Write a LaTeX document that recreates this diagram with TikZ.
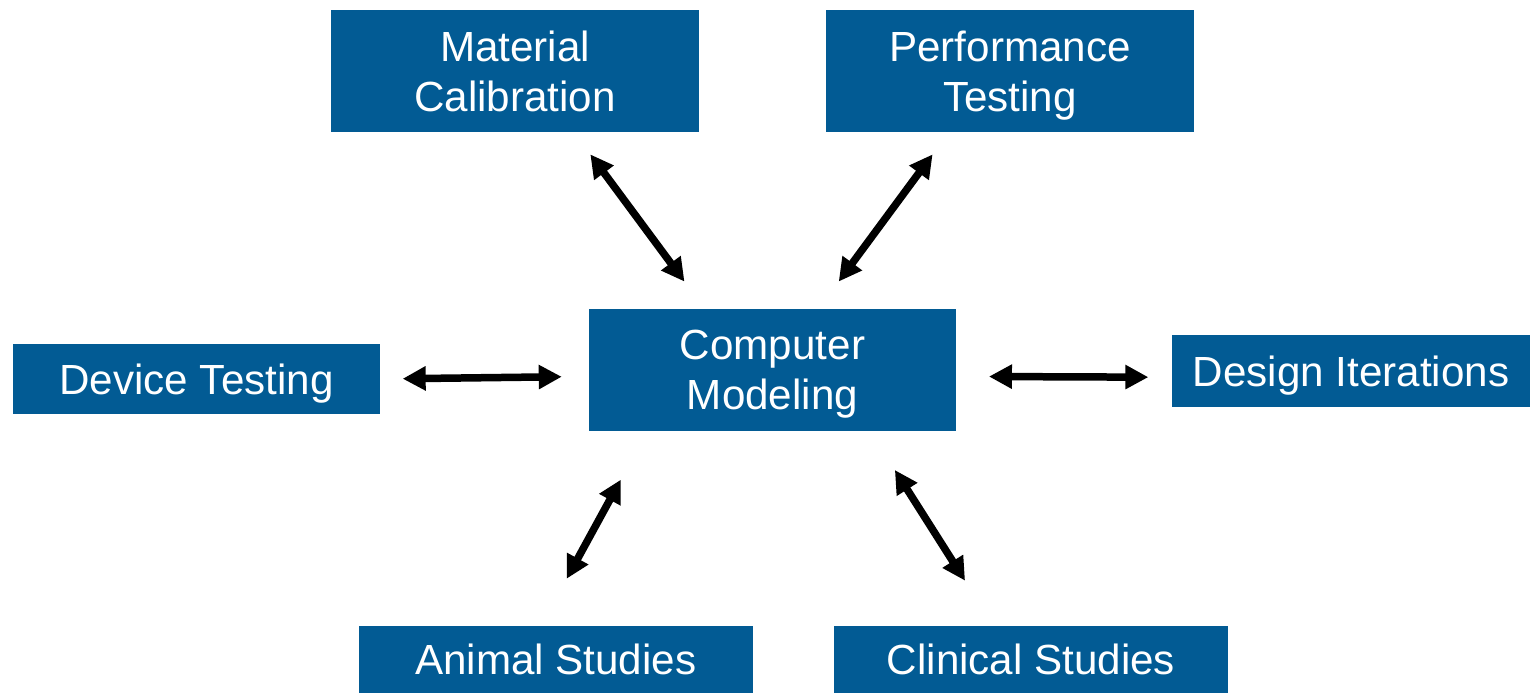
\documentclass[tikz,border=0pt]{standalone}
\usepackage{fontspec}
\setmainfont{Liberation Sans}
\usetikzlibrary{arrows.meta}
\definecolor{boxblue}{RGB}{2,91,148}

\begin{document}
\begin{tikzpicture}
  [x=0.02cm,y=-0.02cm,
   every node/.style={rectangle,fill=boxblue,text=white,inner sep=0pt,outer sep=0pt,
     align=center,text depth=0pt,font=\fontsize{24}{28.5}\selectfont},
   link/.style={line width=0.15cm,
     {Triangle[length=0.46cm,width=0.46cm]}-{Triangle[length=0.46cm,width=0.46cm]}}]
  \useasboundingbox (0,0) rectangle (1530,693);

  \node[minimum width=7.36cm,minimum height=2.45cm] (mc) at (515,71.25)  {Material\\Calibration};
  \node[minimum width=7.36cm,minimum height=2.45cm] (pt) at (1010,71.25) {Performance\\Testing};
  \node[minimum width=7.34cm,minimum height=2.44cm] (cm) at (772.5,370)  {Computer\\Modeling};
  \node[minimum width=7.34cm,minimum height=1.40cm] (dt) at (196.5,379)  {Device Testing};
  \node[minimum width=7.16cm,minimum height=1.44cm] (di) at (1351,371)   {Design Iterations};
  \node[minimum width=7.89cm,minimum height=1.34cm] (as) at (555.75,659.5) {Animal Studies};
  \node[minimum width=7.88cm,minimum height=1.34cm] (cs) at (1031,659.5) {Clinical Studies};

  % from/to anchors and the gaps left at both ends
  \foreach \from/\to/\s/\t in {mc.-46.7/cm.138/0.544/0.682,
                               pt.225.4/cm.53.3/0.544/0.682,
                               dt.0.3/cm.182.5/0.454/0.546,
                               cm.-2.5/di.182.2/0.66/0.474,
                               as.114.8/cm.206.4/1.078/1.108,
                               cs.138.5/cm.-32.2/1.074/0.924}
    \draw[link,shorten <=\s cm,shorten >=\t cm] (\from) -- (\to);

\end{tikzpicture}
\end{document}
